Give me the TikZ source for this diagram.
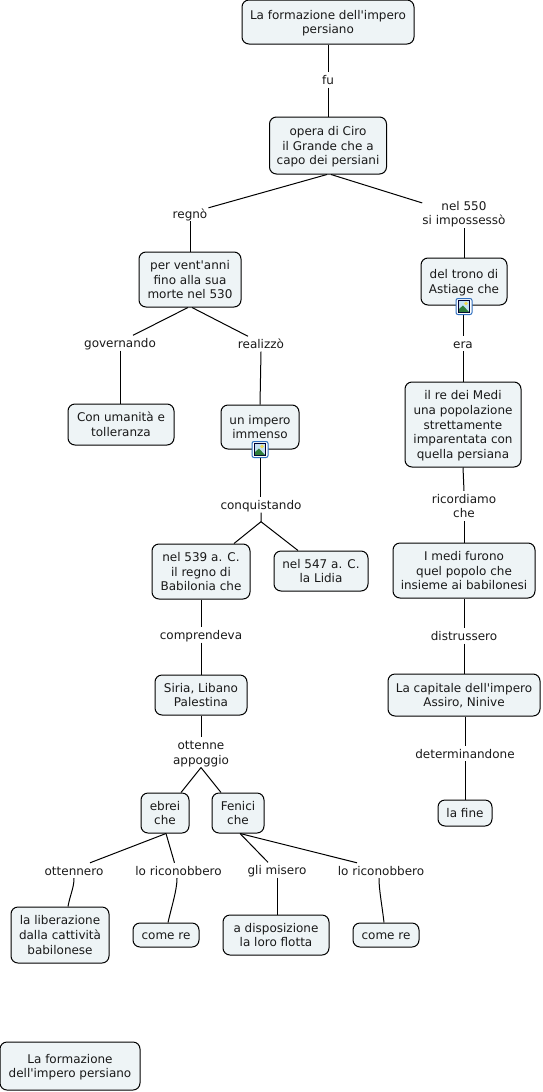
\documentclass[tikz,border=0pt]{standalone}
\usepackage{fontspec}
\setmainfont{DejaVu Sans}[Ligatures=TeXOff]
\definecolor{boxfill}{HTML}{EEF4F6}
\definecolor{iconblue}{HTML}{2F6FC0}
\definecolor{iconhill}{HTML}{2E7D3A}
\definecolor{iconsky}{HTML}{C4E0F2}
\definecolor{iconsun}{HTML}{F2D94E}
\newcommand{\tstr}{\rule{0pt}{12pt}}
\newcommand{\bstr}{\rule[-3pt]{0pt}{3pt}}
\tikzset{
  texted/.style={align=center,font=\fontsize{12}{14.7}\selectfont,text=black!90,inner sep=0pt,
    execute at begin node={\tstr},execute at end node={\bstr}},
  cbox/.style={texted,draw=black,fill=boxfill,rounded corners=7pt,line width=1pt},
  clabel/.style={texted},
  link/.style={draw=black,line width=1pt},
  mapicon/.pic={
    \draw[iconblue,fill=white,line width=1pt,rounded corners=2pt] (-8,-8) rectangle (8,8);
    \draw[black!80!blue,fill=iconsky,line width=1pt] (-5.5,-6) rectangle (5.5,6);
    \fill[iconsun] (2,-3) circle (1.8);
    \fill[iconhill] (-5,5.5) -- (-5,2.5) -- (-1,-1) -- (5,5.5) -- cycle;
  }
}
\begin{document}
\begin{tikzpicture}[x=1pt,y=-1pt]
\useasboundingbox (0,0) rectangle (542,1092);
\node[cbox,minimum width=172pt,minimum height=44pt] (A) at (328,22) {\tstr La formazione dell'impero\\persiano\bstr};
\node[cbox,minimum width=117pt,minimum height=57pt] (B) at (328,145.5) {\tstr opera di Ciro\\il Grande che a\\capo dei persiani\bstr};
\node[cbox,minimum width=102pt,minimum height=55pt] (C) at (190,279.5) {\tstr per vent'anni\\fino alla sua\\morte nel 530\bstr};
\node[cbox,minimum width=86pt,minimum height=47pt] (D) at (464,281.5) {\tstr del trono di\\Astiage che\bstr};
\node[cbox,minimum width=106pt,minimum height=41pt] (E) at (121,424.5) {\tstr Con umanità e\\tolleranza\bstr};
\node[cbox,minimum width=78pt,minimum height=44pt] (F) at (260,427) {\tstr un impero\\immenso\bstr};
\node[cbox,minimum width=116pt,minimum height=85pt] (G) at (463,424.5) {\tstr il re dei Medi\\una popolazione\\strettamente\\imparentata con\\quella persiana\bstr};
\node[cbox,minimum width=98pt,minimum height=55pt] (H) at (201,571.5) {\tstr nel 539 a. C.\\il regno di~\\Babilonia che\bstr};
\node[cbox,minimum width=94pt,minimum height=40pt] (I) at (321,571) {\tstr nel 547 a. C.\\la Lidia\bstr};
\node[cbox,minimum width=142pt,minimum height=55pt] (J) at (464,570.5) {\tstr I medi furono\\quel popolo che\\insieme ai babilonesi\bstr};
\node[cbox,minimum width=92pt,minimum height=40pt] (K) at (201,695) {\tstr Siria, Libano\\Palestina\bstr};
\node[cbox,minimum width=152pt,minimum height=42pt] (L) at (464,695) {\tstr La capitale dell'impero\\Assiro, Ninive\bstr};
\node[cbox,minimum width=48pt,minimum height=40pt] (M) at (165,813) {\tstr ebrei\\che\bstr};
\node[cbox,minimum width=52pt,minimum height=40pt] (N) at (238,813) {\tstr Fenici\\che\bstr};
\node[cbox,minimum width=54pt,minimum height=26pt] (O) at (465,813) {la fine};
\node[cbox,minimum width=98pt,minimum height=56pt] (P) at (60,935) {\tstr la liberazione\\dalla cattività\\babilonese\bstr};
\node[cbox,minimum width=66pt,minimum height=24pt] (Q) at (166,935) {come re};
\node[cbox,minimum width=106pt,minimum height=40pt] (R) at (276,935) {\tstr a disposizione~\\la loro flotta\bstr};
\node[cbox,minimum width=66pt,minimum height=24pt] (S) at (386,935) {come re};
\node[cbox,minimum width=140pt,minimum height=48pt] (T) at (70,1066) {\tstr La formazione\\dell'impero persiano\bstr};

\node[clabel] (fu) at (328,80) {fu};
\node[clabel] (regno) at (190,213.5) {regnò};
\node[clabel] (nel) at (464,213) {\tstr nel 550\\si impossessò\bstr};
\node[clabel] (gov) at (120,343) {governando};
\node[clabel] (real) at (261,344) {realizzò};
\node[clabel] (era) at (463,343.5) {era};
\node[clabel] (cons) at (261,505) {conquistando};
\node[clabel] (ric) at (464,506) {\tstr ricordiamo\\che\bstr};
\node[clabel] (comp) at (201,635) {comprendeva};
\node[clabel] (dist) at (464,636) {distrussero};
\node[clabel] (ott) at (201,752.5) {\tstr ottenne\\appoggio\bstr};
\node[clabel] (det) at (465,753.5) {determinandone};
\node[clabel] (otn) at (74,870.5) {ottennero};
\node[clabel] (lo1) at (178.5,870.5) {lo riconobbero};
\node[clabel] (gli) at (277,870) {gli misero};
\node[clabel] (lo2) at (381,870.5) {lo riconobbero};

\draw[link] (A.south) -- (fu.north);
\draw[link] (fu.south) -- (B.north);
\draw[link] ([xshift=-1pt]B.south) -- ([xshift=1pt,yshift=-2pt]regno.north east);
\draw[link] (regno.south) -- (C.north);
\draw[link] ([xshift=3pt]B.south) -- ([yshift=-5pt]nel.north west);
\draw[link] (nel.south) -- (D.north);
\draw[link] ([xshift=-2pt]C.south) -- ([xshift=13pt]gov.north);
\draw[link] (gov.south) -- (E.north -| gov);
\draw[link] ([xshift=2pt]C.south) -- ([xshift=-13pt]real.north);
\draw[link] (real.south) -- (F.north);
\draw[link] (F.south) -- (cons.north -| F);
\draw[link] (D.south -| era) -- (era.north);
\draw[link] (era.south) -- (G.north);
\draw[link] (G.south) -- (ric.north);
\draw[link] (ric.south) -- (J.north);
\draw[link] (cons.south) -- ++(0,9) coordinate (consfork) -- ([xshift=33pt]H.north);
\draw[link] (consfork) -- ([xshift=-23pt]I.north);
\draw[link] (H.south) -- (comp.north);
\draw[link] (comp.south) -- (K.north);
\draw[link] (J.south) -- (dist.north);
\draw[link] (dist.south) -- (L.north);
\draw[link] (K.south) -- (ott.north);
\draw[link] (L.south -| det) -- (det.north);
\draw[link] (det.south) -- (O.north);
\draw[link] (ott.south) -- ([xshift=16pt]M.north);
\draw[link] (ott.south) -- ([xshift=-17pt]N.north);
\draw[link] ([xshift=1pt]M.south) -- ([xshift=16pt]otn.north);
\draw[link] ([xshift=1pt]M.south) -- ([xshift=-4pt]lo1.north);
\draw[link] ([xshift=2pt]N.south) -- ([xshift=-9pt]gli.north);
\draw[link] ([xshift=2pt]N.south) -- ([xshift=-24pt]lo2.north);
\draw[link] (otn.south) .. controls (74,888) and (70,895) .. (P.north -| 68,0);
\draw[link] (lo1.south -| 177,0) .. controls (177,890) and (172,905) .. (Q.north -| 168,0);
\draw[link] (gli.south) -- (R.north -| gli);
\draw[link] (lo2.south -| 379,0) .. controls (379,890) and (382,905) .. (S.north -| 384,0);

\pic at (260,449.5) {mapicon};
\pic at (464,306.5) {mapicon};
\end{tikzpicture}
\end{document}
